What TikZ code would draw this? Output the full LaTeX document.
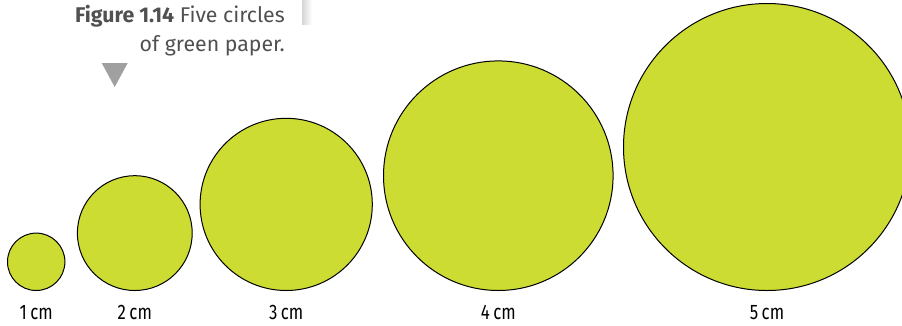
\documentclass[tikz,border=0pt]{standalone}
\usepackage{fontspec}
\setmainfont{Fira Sans}
\newfontfamily\labelfont{Fira Sans}[FakeStretch=0.8]
\usetikzlibrary{positioning}

\definecolor{paper green}{RGB}{205,220,51}
\definecolor{caption grey}{RGB}{80,80,80}
\definecolor{marker grey}{RGB}{160,160,160}

\begin{document}
\begin{tikzpicture}[
  x=1pt,y=-1pt,
  node distance=14pt,
  disc/.style={circle,draw=black,line width=1pt,fill=paper green,inner sep=0pt,anchor=south},
  size label/.style={font=\labelfont\fontsize{21}{21}\selectfont,inner sep=0pt},
  caption/.style={align=right,font=\fontsize{21.3}{29}\selectfont,text=caption grey,inner sep=0pt,anchor=north east}
]
\useasboundingbox (0,0) rectangle (902,325);
\clip (0,0) rectangle (902,325);

% page shadow behind the caption
\shade[left color=black!16,right color=white] (302,0) rectangle (312,24);

% caption and marker
\node[caption] (cap) at (285,5) {\textbf{Figure 1.14} Five circles\\of green paper.};
\fill[marker grey] (101.7,63) -- (127.7,63) -- (114.7,87) -- cycle;

% the five circles, all standing on one line
\node[disc,minimum size=57.4pt] (c1) at (36.2,291) {};
\node[disc,minimum size=114.8pt] (c2) at (134.8,291) {};
\node[disc,minimum size=172.2pt] (c3) at (286.2,291) {};
\node[disc,minimum size=229.6pt] (c4) at (498.3,291) {};
\node[disc,minimum size=287pt] (c5) at (767,291) {};

% diameters
\node[size label,below=of c1] (l1) {1\,cm};
\node[size label,below=of c2] (l2) {2\,cm};
\node[size label,below=of c3] (l3) {3\,cm};
\node[size label,below=of c4] (l4) {4\,cm};
\node[size label,below=of c5] (l5) {5\,cm};
\end{tikzpicture}
\end{document}
